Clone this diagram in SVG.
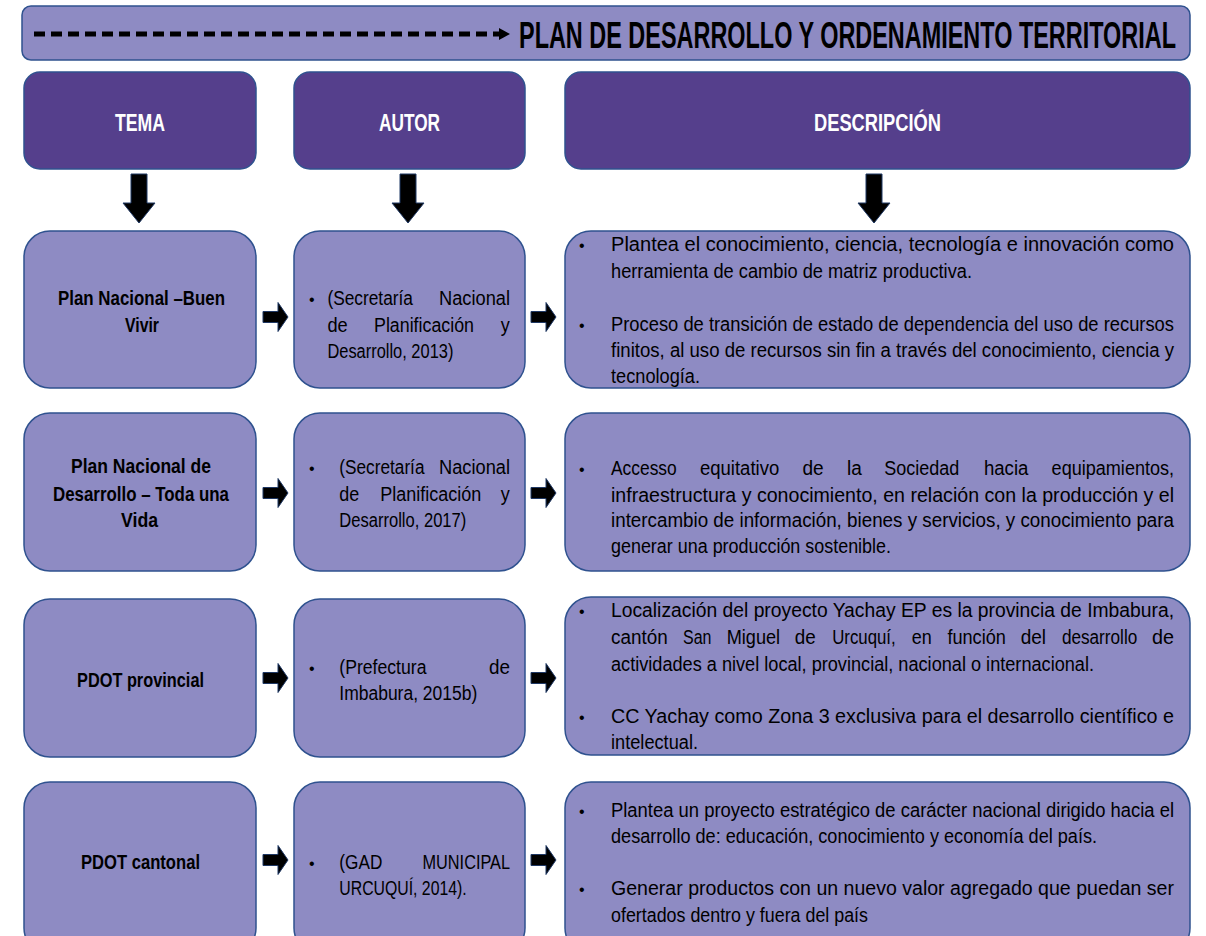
<svg xmlns="http://www.w3.org/2000/svg" width="1206" height="936" viewBox="0 0 1206 936">
<style>
.box{fill:#8e8bc3;stroke:#2f528f;stroke-width:1.5}
.hdr{fill:#553f8c;stroke:#2f528f;stroke-width:1.5}
.t{font-family:"Liberation Sans",Arial,sans-serif;font-size:20px;fill:#000}
.tb{font-family:"Liberation Sans",Arial,sans-serif;font-size:20px;font-weight:bold;fill:#000}
.th{font-family:"Liberation Sans",Arial,sans-serif;font-size:24px;font-weight:bold;fill:#fff}
.bul{font-family:"Liberation Sans",Arial,sans-serif;font-size:16px;fill:#000}
.arr{fill:#000;stroke:#1f3864;stroke-width:1}
</style>
<rect width="1206" height="936" fill="#fff"/>
<g id="banner">
<rect class="box" x="22" y="6" width="1168" height="54" rx="9"/>
<line x1="34" y1="34" x2="500" y2="34" stroke="#000" stroke-width="5" stroke-dasharray="11 6"/>
<polygon points="499,28 510,34 499,40" fill="#000"/>
<text x="519" y="48" font-family="Liberation Sans,Arial,sans-serif" font-size="37" font-weight="bold" textLength="657" lengthAdjust="spacingAndGlyphs">PLAN DE DESARROLLO Y ORDENAMIENTO TERRITORIAL</text>
</g>
<g id="header-tema"><rect class="hdr" x="24" y="72" width="232" height="97" rx="16"/><text class="th" x="115" y="131" textLength="50" lengthAdjust="spacingAndGlyphs">TEMA</text></g>
<g id="header-autor"><rect class="hdr" x="294" y="72" width="231" height="97" rx="16"/><text class="th" x="379" y="131" textLength="61" lengthAdjust="spacingAndGlyphs">AUTOR</text></g>
<g id="header-descripcion"><rect class="hdr" x="565" y="72" width="625" height="97" rx="16"/><text class="th" x="814" y="131" textLength="127" lengthAdjust="spacingAndGlyphs">DESCRIPCIÓN</text></g>

<g id="tema-1"><rect class="box" x="24" y="231" width="232" height="157" rx="26"/>
<text class="tb" x="58" y="305" textLength="167" lengthAdjust="spacingAndGlyphs">Plan Nacional –Buen</text>
<text class="tb" x="125" y="332" textLength="34" lengthAdjust="spacingAndGlyphs">Vivir</text></g>
<g id="autor-1"><rect class="box" x="294" y="231" width="231" height="157" rx="26"/>
<text class="bul" x="309" y="305">•</text>
<text class="t" x="327.4" y="305" textLength="85.6" lengthAdjust="spacingAndGlyphs">(Secretaría</text>
<text class="t" x="439" y="305" textLength="71" lengthAdjust="spacingAndGlyphs">Nacional</text>
<text class="t" x="327.4" y="332" textLength="20.3" lengthAdjust="spacingAndGlyphs">de</text>
<text class="t" x="374" y="332" textLength="100" lengthAdjust="spacingAndGlyphs">Planificación</text>
<text class="t" x="500.8" y="332" textLength="9" lengthAdjust="spacingAndGlyphs">y</text>
<text class="t" x="327.4" y="358" textLength="126" lengthAdjust="spacingAndGlyphs">Desarrollo, 2013)</text></g>
<g id="desc-1"><rect class="box" x="565" y="231" width="625" height="157" rx="26"/>
<text class="bul" x="579" y="251">•</text>
<text class="t" x="611" y="251" textLength="563" lengthAdjust="spacingAndGlyphs">Plantea el conocimiento, ciencia, tecnología e innovación como</text>
<text class="t" x="611" y="278" textLength="361" lengthAdjust="spacingAndGlyphs">herramienta de cambio de matriz productiva.</text>
<text class="bul" x="579" y="331">•</text>
<text class="t" x="611" y="331" textLength="563" lengthAdjust="spacingAndGlyphs">Proceso de transición de estado de dependencia del uso de recursos</text>
<text class="t" x="611" y="357" textLength="563" lengthAdjust="spacingAndGlyphs">finitos, al uso de recursos sin fin a través del conocimiento, ciencia y</text>
<text class="t" x="611" y="383" textLength="89" lengthAdjust="spacingAndGlyphs">tecnología.</text></g>

<g id="tema-2"><rect class="box" x="24" y="413" width="232" height="158" rx="26"/>
<text class="tb" x="71" y="473" textLength="140" lengthAdjust="spacingAndGlyphs">Plan Nacional de</text>
<text class="tb" x="53" y="501" textLength="176" lengthAdjust="spacingAndGlyphs">Desarrollo – Toda una</text>
<text class="tb" x="121" y="527" textLength="37" lengthAdjust="spacingAndGlyphs">Vida</text></g>
<g id="autor-2"><rect class="box" x="294" y="413" width="231" height="158" rx="26"/>
<text class="bul" x="309" y="474">•</text>
<text class="t" x="339.3" y="474" textLength="85.2" lengthAdjust="spacingAndGlyphs">(Secretaría</text>
<text class="t" x="439" y="474" textLength="71" lengthAdjust="spacingAndGlyphs">Nacional</text>
<text class="t" x="339.3" y="501" textLength="20" lengthAdjust="spacingAndGlyphs">de</text>
<text class="t" x="380.3" y="501" textLength="101" lengthAdjust="spacingAndGlyphs">Planificación</text>
<text class="t" x="500.8" y="501" textLength="9" lengthAdjust="spacingAndGlyphs">y</text>
<text class="t" x="339.3" y="527" textLength="127" lengthAdjust="spacingAndGlyphs">Desarrollo, 2017)</text></g>
<g id="desc-2"><rect class="box" x="565" y="413" width="625" height="158" rx="26"/>
<text class="bul" x="579" y="475">•</text>
<text class="t" x="611" y="475" textLength="65.7" lengthAdjust="spacingAndGlyphs">Accesso</text>
<text class="t" x="700" y="475" textLength="79.2" lengthAdjust="spacingAndGlyphs">equitativo</text>
<text class="t" x="802.5" y="475" textLength="21.2" lengthAdjust="spacingAndGlyphs">de</text>
<text class="t" x="847" y="475" textLength="14.8" lengthAdjust="spacingAndGlyphs">la</text>
<text class="t" x="884.3" y="475" textLength="75" lengthAdjust="spacingAndGlyphs">Sociedad</text>
<text class="t" x="983.9" y="475" textLength="44.5" lengthAdjust="spacingAndGlyphs">hacia</text>
<text class="t" x="1051.6" y="475" textLength="122.5" lengthAdjust="spacingAndGlyphs">equipamientos,</text>
<text class="t" x="611" y="502" textLength="563" lengthAdjust="spacingAndGlyphs">infraestructura y conocimiento, en relación con la producción y el</text>
<text class="t" x="611" y="527" textLength="563" lengthAdjust="spacingAndGlyphs">intercambio de información, bienes y servicios, y conocimiento para</text>
<text class="t" x="611" y="553" textLength="280" lengthAdjust="spacingAndGlyphs">generar una producción sostenible.</text></g>

<g id="tema-3"><rect class="box" x="24" y="599" width="232" height="158" rx="26"/>
<text class="tb" x="77" y="687" textLength="127" lengthAdjust="spacingAndGlyphs">PDOT provincial</text></g>
<g id="autor-3"><rect class="box" x="294" y="599" width="231" height="158" rx="26"/>
<text class="bul" x="309" y="674">•</text>
<text class="t" x="339.3" y="674" textLength="87.2" lengthAdjust="spacingAndGlyphs">(Prefectura</text>
<text class="t" x="489" y="674" textLength="21" lengthAdjust="spacingAndGlyphs">de</text>
<text class="t" x="339.3" y="700" textLength="138" lengthAdjust="spacingAndGlyphs">Imbabura, 2015b)</text></g>
<g id="desc-3"><rect class="box" x="565" y="597" width="625" height="158" rx="26"/>
<text class="bul" x="579" y="617">•</text>
<text class="t" x="611" y="617" textLength="563" lengthAdjust="spacingAndGlyphs">Localización del proyecto Yachay EP es la provincia de Imbabura,</text>
<text class="t" x="611" y="644" textLength="56.8" lengthAdjust="spacingAndGlyphs">cantón</text>
<text class="t" x="683" y="644" textLength="28.4" lengthAdjust="spacingAndGlyphs">San</text>
<text class="t" x="726.7" y="644" textLength="53.4" lengthAdjust="spacingAndGlyphs">Miguel</text>
<text class="t" x="794.7" y="644" textLength="21" lengthAdjust="spacingAndGlyphs">de</text>
<text class="t" x="832.2" y="644" textLength="63.5" lengthAdjust="spacingAndGlyphs">Urcuquí,</text>
<text class="t" x="911.8" y="644" textLength="20" lengthAdjust="spacingAndGlyphs">en</text>
<text class="t" x="947.4" y="644" textLength="58.5" lengthAdjust="spacingAndGlyphs">función</text>
<text class="t" x="1020.7" y="644" textLength="25.4" lengthAdjust="spacingAndGlyphs">del</text>
<text class="t" x="1061.9" y="644" textLength="75.4" lengthAdjust="spacingAndGlyphs">desarrollo</text>
<text class="t" x="1152.1" y="644" textLength="22" lengthAdjust="spacingAndGlyphs">de</text>
<text class="t" x="611" y="671" textLength="483" lengthAdjust="spacingAndGlyphs">actividades a nivel local, provincial, nacional o internacional.</text>
<text class="bul" x="579" y="723">•</text>
<text class="t" x="611" y="723" textLength="563" lengthAdjust="spacingAndGlyphs">CC Yachay como Zona 3 exclusiva para el desarrollo científico e</text>
<text class="t" x="611" y="749" textLength="87" lengthAdjust="spacingAndGlyphs">intelectual.</text></g>

<g id="tema-4"><rect class="box" x="24" y="782" width="232" height="172" rx="26"/>
<text class="tb" x="81" y="869" textLength="119" lengthAdjust="spacingAndGlyphs">PDOT cantonal</text></g>
<g id="autor-4"><rect class="box" x="294" y="782" width="231" height="172" rx="26"/>
<text class="bul" x="309" y="869">•</text>
<text class="t" x="339.3" y="869" textLength="43" lengthAdjust="spacingAndGlyphs">(GAD</text>
<text class="t" x="422.5" y="869" textLength="87.5" lengthAdjust="spacingAndGlyphs">MUNICIPAL</text>
<text class="t" x="339.3" y="895" textLength="127.4" lengthAdjust="spacingAndGlyphs">URCUQUÍ, 2014).</text></g>
<g id="desc-4"><rect class="box" x="565" y="782" width="625" height="172" rx="26"/>
<text class="bul" x="579" y="817">•</text>
<text class="t" x="611" y="817" textLength="563" lengthAdjust="spacingAndGlyphs">Plantea un proyecto estratégico de carácter nacional dirigido hacia el</text>
<text class="t" x="611" y="843" textLength="486" lengthAdjust="spacingAndGlyphs">desarrollo de: educación, conocimiento y economía del país.</text>
<text class="bul" x="579" y="895">•</text>
<text class="t" x="611" y="895" textLength="563" lengthAdjust="spacingAndGlyphs">Generar productos con un nuevo valor agregado que puedan ser</text>
<text class="t" x="611" y="922" textLength="257" lengthAdjust="spacingAndGlyphs">ofertados dentro y fuera del país</text></g>

<g id="connectors">
<polygon class="arr" points="131,174 147,174 147,203 155,203 139,223 123,203 131,203"/>
<polygon class="arr" points="400,174 416,174 416,203 424,203 408,223 392,203 400,203"/>
<polygon class="arr" points="866,174 882,174 882,203 890,203 874,223 858,203 866,203"/>
<polygon class="arr" points="263,311.5 278,311.5 278,302.5 288,317 278,331.5 278,322.5 263,322.5"/>
<polygon class="arr" points="531,311.5 546,311.5 546,302.5 556,317 546,331.5 546,322.5 531,322.5"/>
<polygon class="arr" points="263,487.5 278,487.5 278,478.5 288,493 278,507.5 278,498.5 263,498.5"/>
<polygon class="arr" points="531,487.5 546,487.5 546,478.5 556,493 546,507.5 546,498.5 531,498.5"/>
<polygon class="arr" points="263,672.5 278,672.5 278,663.5 288,678 278,692.5 278,683.5 263,683.5"/>
<polygon class="arr" points="531,672.5 546,672.5 546,663.5 556,678 546,692.5 546,683.5 531,683.5"/>
<polygon class="arr" points="263,854.5 278,854.5 278,845.5 288,860 278,874.5 278,865.5 263,865.5"/>
<polygon class="arr" points="531,854.5 546,854.5 546,845.5 556,860 546,874.5 546,865.5 531,865.5"/>
</g>
</svg>
